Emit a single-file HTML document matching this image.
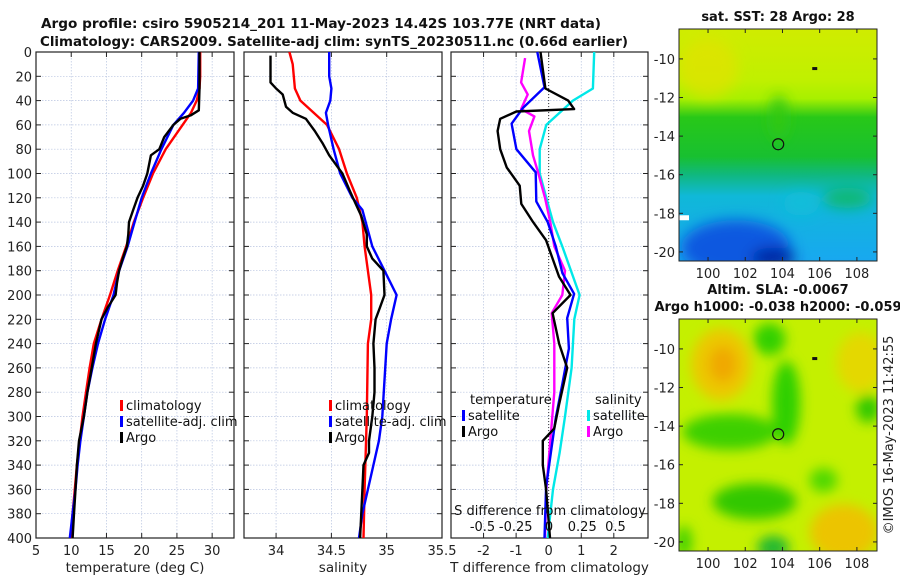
<!DOCTYPE html>
<html><head><meta charset="utf-8"><style>
body{margin:0;background:#fff}
svg{display:block;font-family:"DejaVu Sans","Liberation Sans",sans-serif}
</style></head><body>
<svg id="c" width="900" height="580" viewBox="0 0 900 580" xmlns="http://www.w3.org/2000/svg">
<defs>
<filter id="bl" x="-30%" y="-30%" width="160%" height="160%"><feGaussianBlur stdDeviation="7"/></filter>
<filter id="bl2" x="-30%" y="-30%" width="160%" height="160%"><feGaussianBlur stdDeviation="6"/></filter>
<clipPath id="cm1"><rect x="679" y="29" width="198" height="232"/></clipPath>
<clipPath id="cm2"><rect x="679" y="319" width="198" height="232"/></clipPath>
<linearGradient id="sst" x1="0" y1="0" x2="0" y2="1">
<stop offset="0" stop-color="#d0ec00"/><stop offset="0.22" stop-color="#c0f000"/><stop offset="0.3" stop-color="#a8f000"/>
<stop offset="0.38" stop-color="#28c818"/><stop offset="0.55" stop-color="#18c030"/><stop offset="0.63" stop-color="#10b880"/>
<stop offset="0.72" stop-color="#10b8d8"/><stop offset="1" stop-color="#18a8f0"/></linearGradient>
</defs>
<g font-weight="bold" font-size="13.5" fill="#111">
<text x="41" y="28" textLength="560" lengthAdjust="spacingAndGlyphs">Argo profile: csiro 5905214_201 11-May-2023 14.42S 103.77E (NRT data)</text>
<text x="40" y="46" textLength="588" lengthAdjust="spacingAndGlyphs">Climatology: CARS2009. Satellite-adj clim: synTS_20230511.nc (0.66d earlier)</text>
</g>
<g id="plots"></g>
<g id="maps"></g>
</svg>
<script>
// ---- data ----
const depthTicks=[0,20,40,60,80,100,120,140,160,180,200,220,240,260,280,300,320,340,360,380,400];
const tTicks=[5,10,15,20,25,30];
const sTicks=[34,34.5,35,35.5];
const dTTicks=[-2,-1,0,1,2];
const dTLabels=['-2','-1','0','1','2'];
const dSTicks=[-0.5,-0.25,0,0.25,0.5];
const climTdep=[0,20,30,40,50,60,80,100,120,140,160,180,200,220,240,260,280,300,320,340,360,380,400];
const climT=[28.3,28.3,28.2,27.8,27,25.8,23.4,21.6,20.2,18.9,17.8,16.6,15.5,14.3,13.2,12.6,12.1,11.6,11.2,10.8,10.5,10.2,9.9];
const satTdep=[0,30,40,50,60,80,100,120,140,160,180,200,220,240,260,280,300,320,340,360,380,400];
const satT=[28.1,28.0,27.3,26,24.5,22.8,21.3,20,19,18,16.8,16,14.8,13.8,13,12.3,11.8,11.3,10.9,10.6,10.2,9.8];
const argoTdep=[0,30,48,52,55,60,70,80,85,100,110,120,130,140,150,160,170,180,190,200,210,220,240,260,280,300,320,340,360,380,400];
const argoT=[28.2,28.2,28.1,27,25.5,24.5,23.2,22.5,21.3,20.8,20.2,19.4,18.8,18.2,18.1,17.9,17.3,16.8,16.5,16.3,15.2,14.3,13.5,12.9,12.3,11.8,11.1,10.8,10.6,10.4,10.2];
const climSdep=[0,10,20,30,40,60,80,100,120,140,160,200,220,240,300,360,400];
const climS=[34.12,34.15,34.16,34.17,34.22,34.46,34.57,34.64,34.73,34.78,34.8,34.86,34.86,34.83,34.82,34.8,34.79];
const satSdep=[0,20,30,40,50,60,80,100,120,130,160,180,200,220,240,300,320,340,380,400];
const satS=[34.48,34.48,34.5,34.49,34.45,34.47,34.52,34.58,34.69,34.78,34.87,34.98,35.09,35.04,35.0,34.96,34.93,34.88,34.78,34.75];
const argoSdep=[3,25,30,35,45,50,55,65,75,85,100,115,125,135,150,160,170,180,200,210,220,240,260,280,300,320,330,340,360,400];
const argoS=[33.95,33.95,34,34.06,34.09,34.15,34.27,34.35,34.42,34.48,34.6,34.67,34.72,34.77,34.82,34.82,34.87,34.97,34.98,34.94,34.9,34.88,34.89,34.89,34.87,34.84,34.84,34.79,34.78,34.76];
const dTsatDep=[0,29,46,59,80,99,123,140,160,182,199,219,244,273,301,329,358,400];
const dTsat=[-0.35,-0.13,-0.79,-1.14,-0.99,-0.4,-0.38,-0.03,0.22,0.42,0.78,0.57,0.62,0.42,0.22,0.07,-0.08,-0.13];
const dTargoDep=[0,30,40,47,49,55,65,80,95,110,125,140,155,170,185,200,215,240,260,290,310,320,340,360,400];
const dTargo=[-0.25,-0.1,0.6,0.78,-0.99,-1.49,-1.57,-1.49,-1.29,-0.89,-0.84,-0.48,-0.08,0.12,0.32,0.67,0.12,0.32,0.57,0.32,0.17,-0.18,-0.18,-0.08,0.04];
const dSsatDep=[0,30,40,60,80,100,120,140,160,200,220,260,300,330,360,400];
const dSsat=[0.34,0.33,0.18,-0.02,-0.07,-0.07,-0.02,0.03,0.1,0.23,0.19,0.17,0.12,0.08,0.03,-0.01];
const dSargoDep=[5,25,35,47,53,65,85,100,120,140,160,180,200,215,240,280,320,360,400];
const dSargo=[-0.18,-0.21,-0.16,-0.21,-0.11,-0.15,-0.12,-0.08,-0.03,0.01,0.04,0.12,0.1,0.02,0.04,0.04,0.01,-0.02,-0.03];
const lonTicks=[100,102,104,106,108];
const latTicks=[-10,-12,-14,-16,-18,-20];
const argoLon=103.77, argoLat=-14.42;

// ---- helpers ----
const NS='http://www.w3.org/2000/svg';
const plots=document.getElementById('plots');
function el(tag,attrs,parent,txt){const e=document.createElementNS(NS,tag);for(const k in attrs)e.setAttribute(k,attrs[k]);if(txt!==undefined)e.textContent=txt;(parent||plots).appendChild(e);return e;}
const Y0=52,Y1=538;
const yD=d=>Y0+(Y1-Y0)*d/400;
function panel(name,x0,x1,xmin,xmax,xt,xl,xlabel,yLabels){
  const g=el('g',{},plots);
  
  
  const sx=v=>x0+(x1-x0)*(v-xmin)/(xmax-xmin);
  depthTicks.forEach(d=>{el('line',{x1:x0,x2:x1,y1:yD(d),y2:yD(d),stroke:'#b8c4e0','stroke-width':0.7,'stroke-dasharray':'1.5,1.5'},g);
    el('line',{x1:x0,x2:x0+5,y1:yD(d),y2:yD(d),stroke:'#222','stroke-width':1},g);
    el('line',{x1:x1-5,x2:x1,y1:yD(d),y2:yD(d),stroke:'#222','stroke-width':1},g);
    if(yLabels){const t=el('text',{x:x0-4,y:yD(d)+5,'text-anchor':'end','font-size':13,fill:'#222'},g,String(d));
      }});
  xt.forEach((v,i)=>{const x=sx(v);
    if(v>xmin&&v<xmax)el('line',{x1:x,x2:x,y1:Y0,y2:Y1,stroke:'#b8c4e0','stroke-width':0.7,'stroke-dasharray':'1.5,1.5'},g);
    el('line',{x1:x,x2:x,y1:Y1,y2:Y1-5,stroke:'#222'},g);el('line',{x1:x,x2:x,y1:Y0,y2:Y0+5,stroke:'#222'},g);
    const t=el('text',{x:x,y:555,'text-anchor':'middle','font-size':13,fill:'#222'},g,xl[i]);
    });
  el('rect',{x:x0,y:Y0,width:x1-x0,height:Y1-Y0,fill:'none',stroke:'#222','stroke-width':1.2},g);
  const xt2=el('text',{x:(x0+x1)/2,y:572,'text-anchor':'middle','font-size':13.5,fill:'#222'},g,xlabel);
  
  return {g,sx};
}
function series(p,name,vals,deps,color,sxf){
  const pts=vals.map((v,i)=>(sxf||p.sx)(v).toFixed(1)+','+yD(deps[i]).toFixed(1)).join(' ');
  const l=el('polyline',{points:pts,fill:'none',stroke:color,'stroke-width':2.4,'stroke-linejoin':'round'},p.g);
  
  
}
function legend(g,x,y,items){
  items.forEach((it,i)=>{const yy=y+i*16;
    el('rect',{x:x,y:yy-10,width:3,height:11,fill:it[1]},g);
    const t=el('text',{x:x+6,y:yy,'font-size':13,fill:'#111'},g,it[0]);
    });
}
const p1=panel('temperature-panel',36,234,5,33.1,tTicks,tTicks.map(String),'temperature (deg C)',true);
series(p1,'climatology-temperature-line',climT,climTdep,'#ff0000');
series(p1,'satellite-temperature-line',satT,satTdep,'#0000ff');
series(p1,'argo-temperature-line',argoT,argoTdep,'#000000');
legend(p1.g,120,410,[['climatology','#ff0000'],['satellite-adj. clim','#0000ff'],['Argo','#000000']]);

const p2=panel('salinity-panel',244,442,33.71,35.5,sTicks,sTicks.map(String),'salinity',false);
series(p2,'climatology-salinity-line',climS,climSdep,'#ff0000');
series(p2,'satellite-salinity-line',satS,satSdep,'#0000ff');
series(p2,'argo-salinity-line',argoS,argoSdep,'#000000');
legend(p2.g,329,410,[['climatology','#ff0000'],['satellite-adj. clim','#0000ff'],['Argo','#000000']]);

const p3=panel('difference-panel',451,648,-3.0,3.05,dTTicks,dTLabels,'T difference from climatology',false);
const sS=v=>549+v*133;
el('line',{x1:p3.sx(0),x2:p3.sx(0),y1:Y0,y2:Y1,stroke:'#333','stroke-width':1,'stroke-dasharray':'1,2'},p3.g);
series(p3,'satellite-salinity-diff-line',dSsat,dSsatDep,'#00e8e8',sS);
series(p3,'argo-salinity-diff-line',dSargo,dSargoDep,'#ff00ff',sS);
series(p3,'satellite-temperature-diff-line',dTsat,dTsatDep,'#0000ff');
series(p3,'argo-temperature-diff-line',dTargo,dTargoDep,'#000000');
{const t=el('text',{x:470,y:404,'font-size':13,fill:'#111'},p3.g,'temperature');
 const t2=el('text',{x:595,y:404,'font-size':13,fill:'#111'},p3.g,'salinity');}
legend(p3.g,462,420,[['satellite','#0000ff'],['Argo','#000000']]);
legend(p3.g,587,420,[['satellite','#00e8e8'],['Argo','#ff00ff']]);
{const t=el('text',{x:550,y:515,'text-anchor':'middle','font-size':13,fill:'#111'},p3.g,'S difference from climatology');
 dSTicks.forEach(v=>{const tt=el('text',{x:sS(v),y:531,'text-anchor':'middle','font-size':13,fill:'#111'},p3.g,String(v));});}

// ---- maps ----
const maps=document.getElementById('maps');
const LON0=98.44,LON1=109.08,LAT0=-8.45,LAT1=-20.47;
function map(name,top,titles,draw){
  const g=el('g',{},maps);
  
  
  const mx=v=>679+198*(v-LON0)/(LON1-LON0), my=v=>top+232*(v-LAT0)/(LAT1-LAT0);
  const cg=el('g',{'clip-path':'url(#'+(top<100?'cm1':'cm2')+')'},g);
  draw(cg,mx,my);
  el('rect',{x:679,y:top,width:198,height:232,fill:'none',stroke:'#222','stroke-width':1},g);
  lonTicks.forEach(v=>{el('line',{x1:mx(v),x2:mx(v),y1:top+232,y2:top+228,stroke:'#222'},g);el('line',{x1:mx(v),x2:mx(v),y1:top,y2:top+4,stroke:'#222'},g);
    const t=el('text',{x:mx(v),y:top+249,'text-anchor':'middle','font-size':13,fill:'#222'},g,String(v));});
  latTicks.forEach(v=>{el('line',{x1:679,x2:683,y1:my(v),y2:my(v),stroke:'#222'},g);el('line',{x1:877,x2:873,y1:my(v),y2:my(v),stroke:'#222'},g);
    const t=el('text',{x:675,y:my(v)+5,'text-anchor':'end','font-size':13,fill:'#222'},g,String(v));});
  titles.forEach((s,i)=>{const t=el('text',{x:778,y:top-8-(titles.length-1-i)*17,'text-anchor':'middle','font-size':13,'font-weight':'bold',fill:'#111'},g,s);});
  const c=el('circle',{cx:mx(argoLon),cy:my(argoLat),r:5.5,fill:'none',stroke:'#111','stroke-width':1.2},g);
  
  el('rect',{x:mx(105.6),y:my(-10.5)-1.5,width:5,height:3,fill:'#111'},g);
}
map('sst-map',29,['sat. SST: 28 Argo: 28'],(g,mx,my)=>{
  el('rect',{x:679,y:29,width:198,height:232,fill:'url(#sst)'},g);
  const b=el('g',{filter:'url(#bl)'},g);
  el('ellipse',{cx:mx(100),cy:my(-10.5),rx:30,ry:30,fill:'#e8e000',opacity:0.6},b);
  el('ellipse',{cx:mx(103.8),cy:my(-13),rx:8,ry:22,fill:'#30c818'},b);
  el('ellipse',{cx:mx(101.5),cy:my(-19.8),rx:55,ry:28,fill:'#0858e0'},b);
  el('ellipse',{cx:mx(103.5),cy:my(-20.3),rx:22,ry:10,fill:'#0020a0'},b);
  el('ellipse',{cx:mx(107.5),cy:my(-17.2),rx:25,ry:10,fill:'#10b870'},b);
  el('ellipse',{cx:mx(105),cy:my(-17.5),rx:18,ry:12,fill:'#10c0d8',opacity:0.7},b);
  el('rect',{x:mx(98.44),y:my(-18.1),width:10,height:5,fill:'#fff'},g);
});
map('sla-map',319,['Altim. SLA: -0.0067','Argo h1000: -0.038 h2000: -0.059'],(g,mx,my)=>{
  el('rect',{x:679,y:319,width:198,height:232,fill:'#c4f000'},g);
  const b=el('g',{filter:'url(#bl2)'},g);
  el('ellipse',{cx:mx(100.7),cy:my(-10.8),rx:30,ry:36,fill:'#ecc800'},b);
  el('ellipse',{cx:mx(100.8),cy:my(-10.8),rx:14,ry:18,fill:'#f0a800'},b);
  el('ellipse',{cx:mx(108.2),cy:my(-10.7),rx:24,ry:30,fill:'#e4d800'},b);
  el('ellipse',{cx:mx(107.3),cy:my(-19.5),rx:34,ry:28,fill:'#ecc400'},b);
  el('ellipse',{cx:mx(101.2),cy:my(-14.3),rx:48,ry:18,fill:'#3cd000'},b);
  el('ellipse',{cx:mx(104.2),cy:my(-12.8),rx:14,ry:42,fill:'#2ed000'},b);
  el('ellipse',{cx:mx(103.3),cy:my(-9.5),rx:16,ry:16,fill:'#30d000'},b);
  el('ellipse',{cx:mx(102.5),cy:my(-17.9),rx:42,ry:18,fill:'#30c800'},b);
  el('ellipse',{cx:mx(103.5),cy:my(-20.3),rx:16,ry:12,fill:'#20b830'},b);
  el('ellipse',{cx:mx(108.6),cy:my(-13.1),rx:12,ry:14,fill:'#30c800'},b);
  el('ellipse',{cx:mx(106.2),cy:my(-16.8),rx:14,ry:12,fill:'#50d800'},b);
  el('ellipse',{cx:mx(98.7),cy:my(-20),rx:8,ry:16,fill:'#40d000'},b);
});
{const t=el('text',{x:893,y:435,'text-anchor':'middle','font-size':13,fill:'#222',transform:'rotate(-90 893 435)'},maps,'©IMOS 16-May-2023 11:42:55');
}
</script>
</body></html>
